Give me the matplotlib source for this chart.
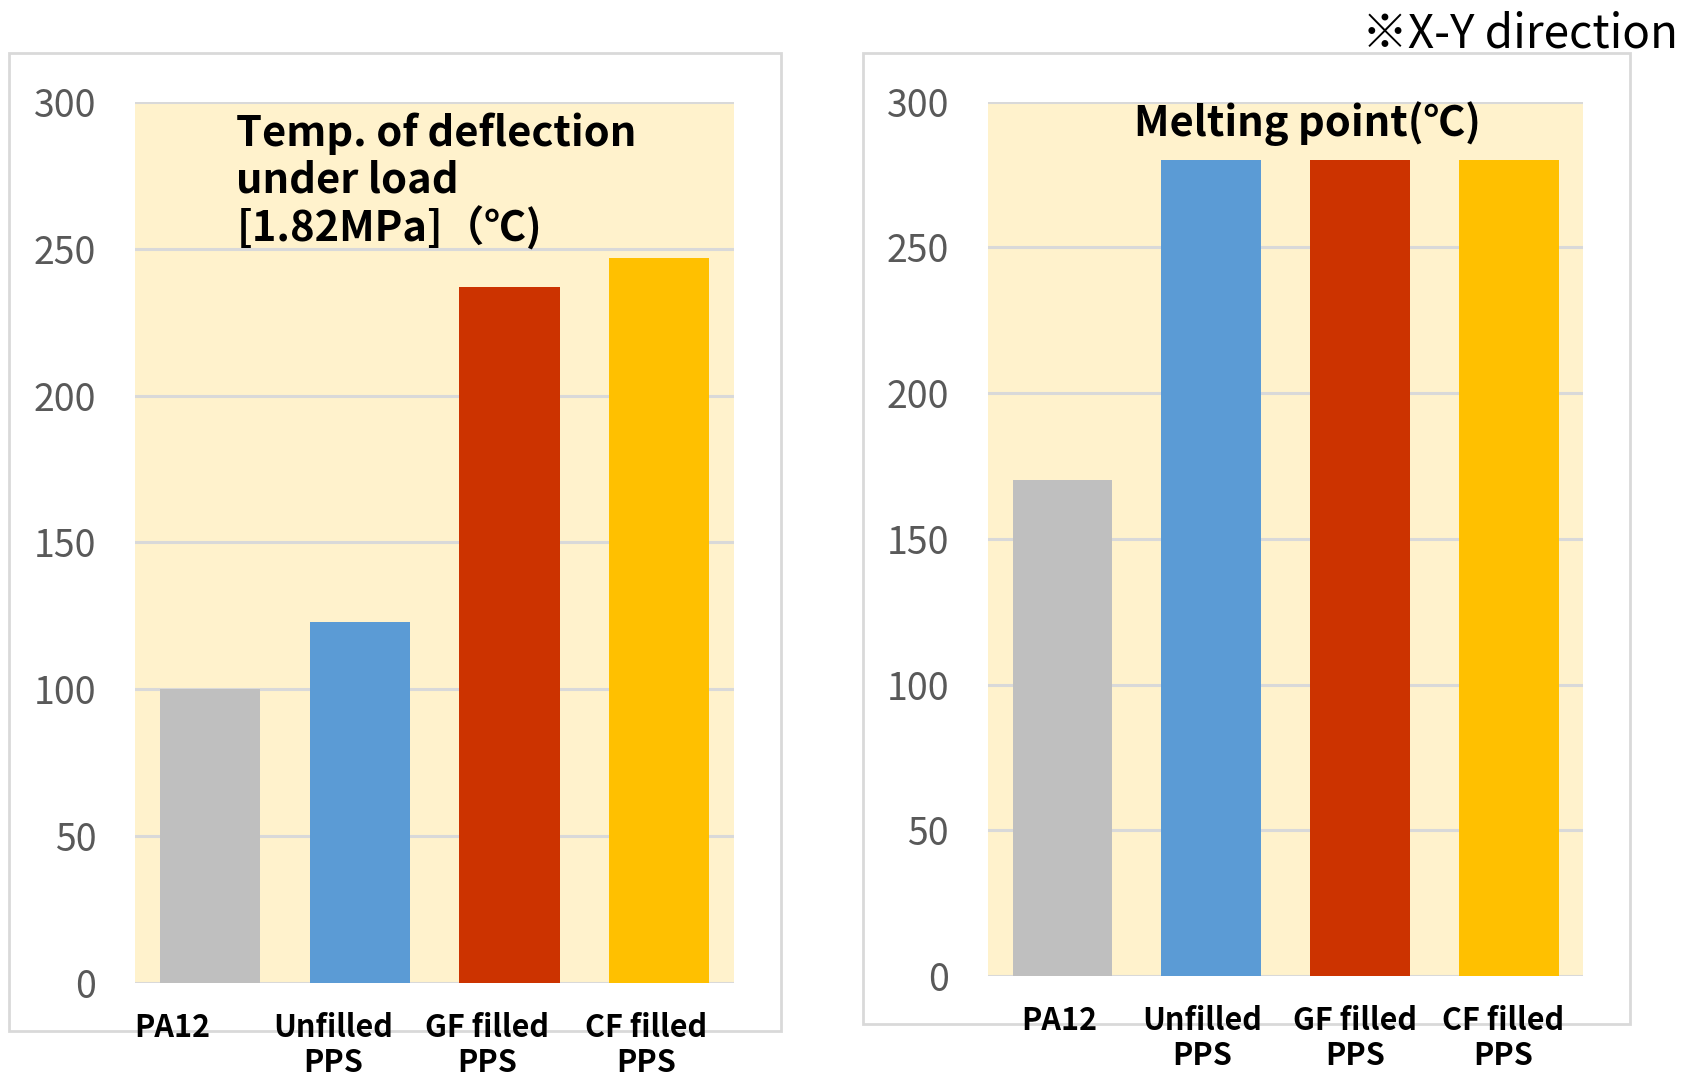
import matplotlib
matplotlib.use("Agg")
import matplotlib.pyplot as plt
from matplotlib.patches import Rectangle

categories = ["PA12", "Unfilled\nPPS", "GF filled\nPPS", "CF filled\nPPS"]
hdt_values = [100, 123, 237, 247]
melt_values = [170, 280, 280, 280]
bar_colors = ["#BFBFBF", "#5B9BD5", "#CC3300", "#FFC000"]
yticks = [0, 50, 100, 150, 200, 250, 300]

plt.rcParams["font.family"] = ["Noto Sans CJK JP", "DejaVu Sans"]

fig = plt.figure(figsize=(16.97, 10.79), dpi=100)

# light outer frames around each chart, kept behind the axes
for x0, y0, w, h in [(9, 53, 772, 978), (863, 53, 767, 971)]:
    fig.patches.append(Rectangle((x0 / 1697, 1 - (y0 + h) / 1079), w / 1697, h / 1079,
                                 transform=fig.transFigure, facecolor="white",
                                 edgecolor="#D9D9D9", linewidth=2, zorder=-5))

ax1 = fig.add_axes([0.0796, 0.089, 0.353, 0.8165])
ax2 = fig.add_axes([0.5822, 0.0954, 0.3507, 0.8105])

label_shift = {ax1: [-0.25, -0.18, -0.15, -0.09], ax2: [-0.02, -0.06, -0.03, -0.04]}

for ax, vals in [(ax1, hdt_values), (ax2, melt_values)]:
    ax.set_facecolor("#FFF2CC")
    ax.bar(range(len(vals)), vals, width=0.67, color=bar_colors, zorder=3)
    ax.set_xlim(-0.5, len(vals) - 0.5)
    ax.set_ylim(0, 300)
    ax.set_yticks(yticks)
    ax.yaxis.grid(True, color="#D9D9D9", linewidth=2.2, zorder=1)
    ax.set_axisbelow(True)
    ax.tick_params(axis="y", length=0, pad=28, labelsize=27, labelcolor="#595959")
    ax.set_xticks([])
    for s in ax.spines.values():
        s.set_visible(False)
    for i, lab in enumerate(categories):
        ax.annotate(lab, xy=(i + label_shift[ax][i], 0), xycoords="data",
                    xytext=(0, -21), textcoords="offset points",
                    ha="center", va="top", fontsize=22, fontweight="bold",
                    linespacing=1.1, annotation_clip=False)

ax1.text(0.169, 0.988, "Temp. of deflection\nunder load\n[1.82MPa]（℃)",
         transform=ax1.transAxes, ha="left", va="top", fontsize=30,
         fontweight="bold", linespacing=1.14)
ax2.text(0.536, 0.975, "Melting point(℃)", transform=ax2.transAxes,
         ha="center", va="center", fontsize=30, fontweight="bold")

fig.text(0.989, 0.968, "※X-Y direction", ha="right", va="center", fontsize=33)

fig.savefig("out.png", dpi=100)
